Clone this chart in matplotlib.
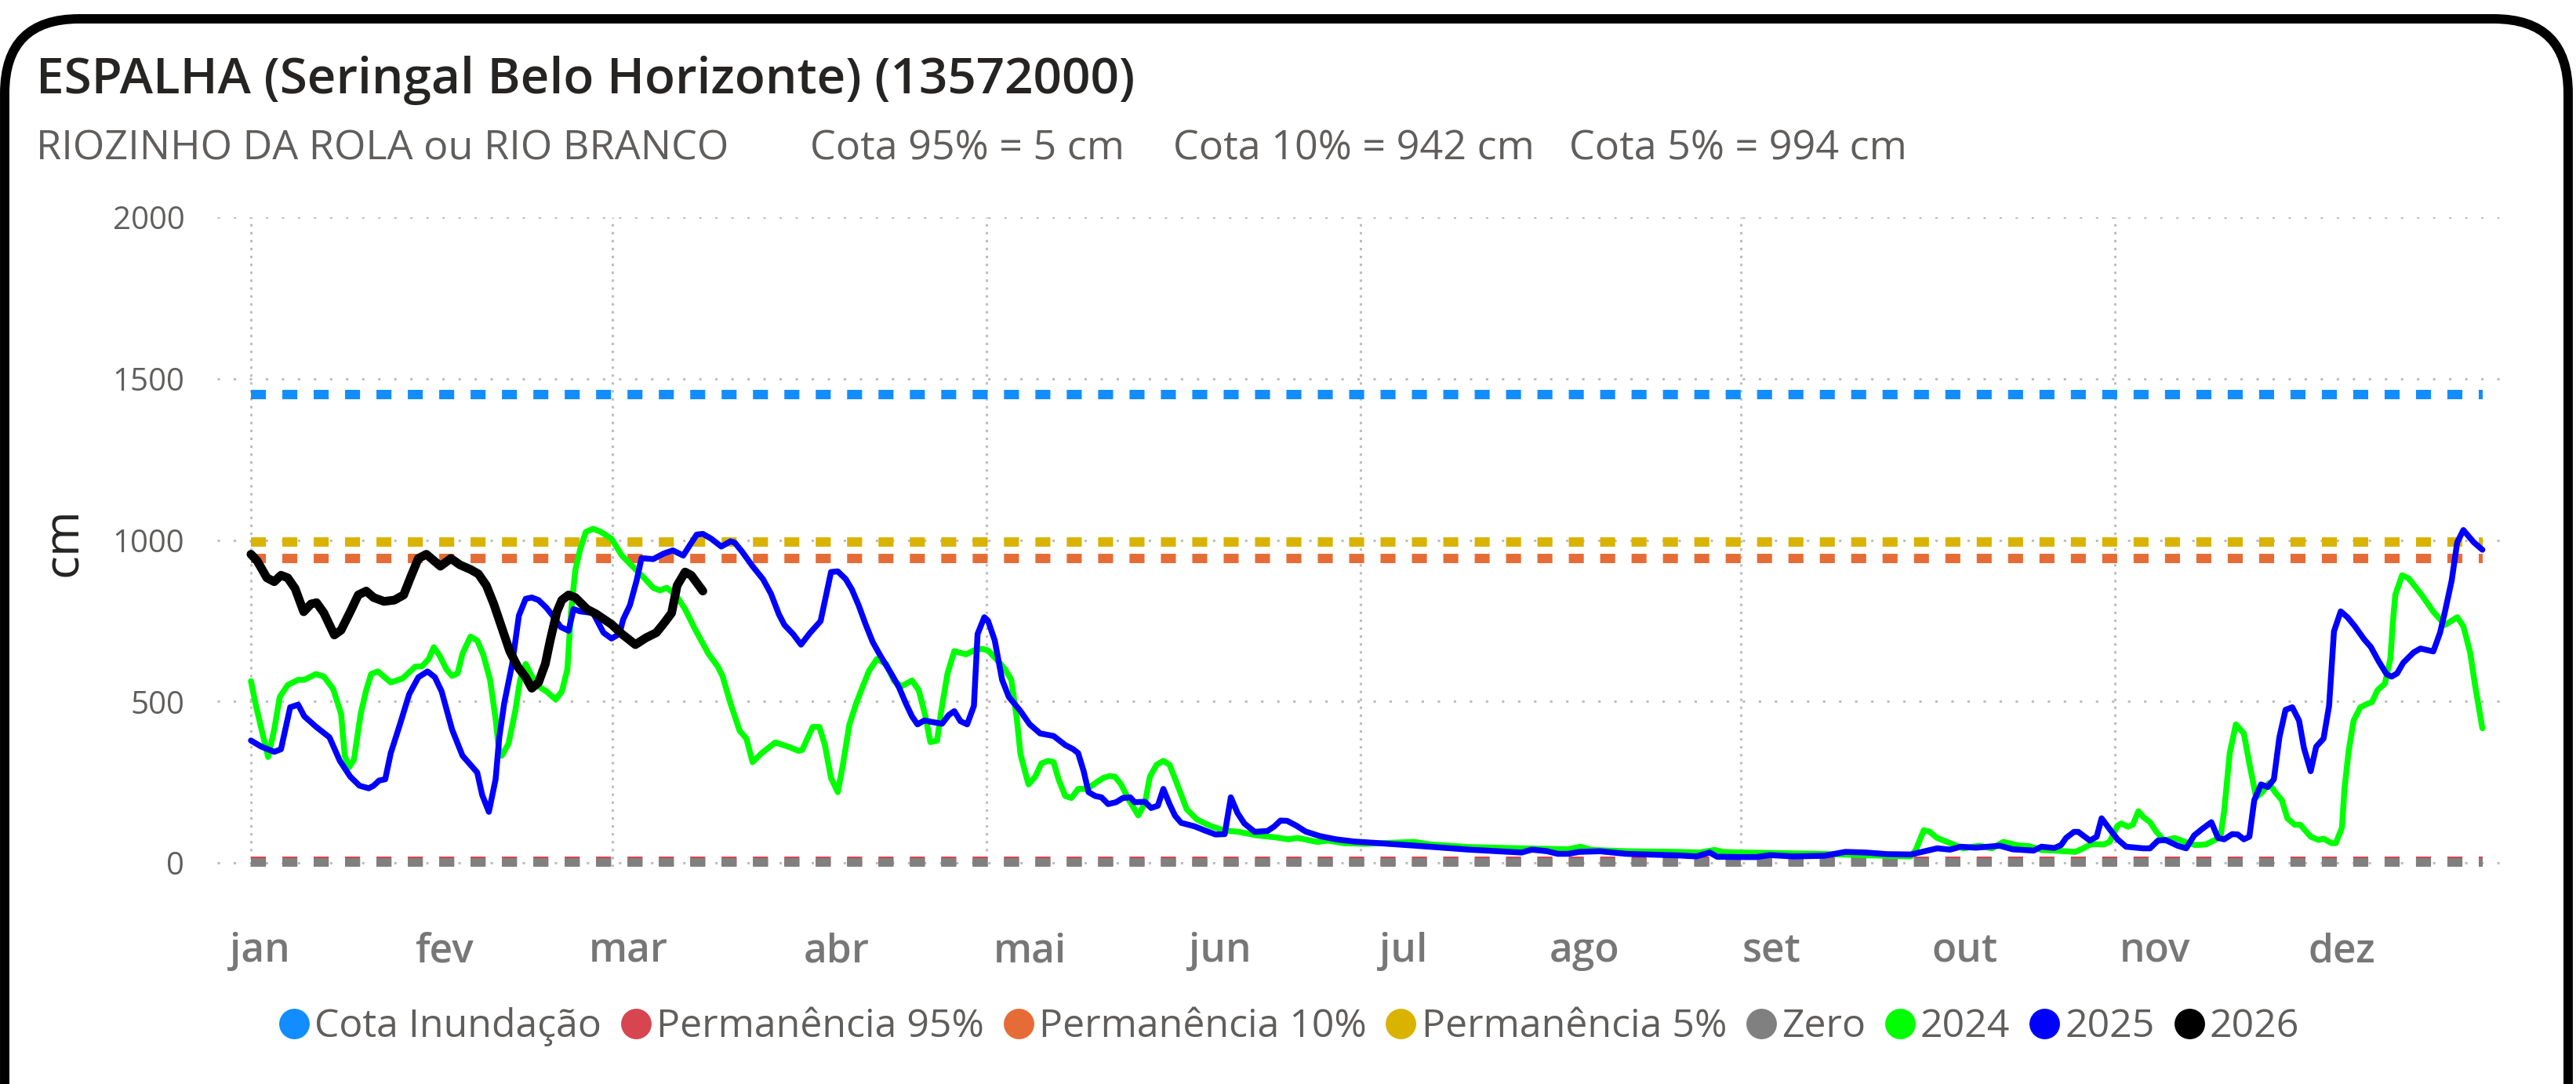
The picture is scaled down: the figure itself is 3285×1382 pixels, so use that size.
import matplotlib
matplotlib.use("Agg")
import matplotlib.pyplot as plt
from matplotlib.lines import Line2D
from matplotlib.patches import FancyBboxPatch
from matplotlib.transforms import IdentityTransform

plt.rcParams["font.family"] = ["Open Sans", "DejaVu Sans"]

# ---- data (day of year, 0 = 1 jan) ----
TITLE = "ESPALHA (Seringal Belo Horizonte) (13572000)"
RIVER = "RIOZINHO DA ROLA ou RIO BRANCO"
COTA_95 = 5
COTA_10 = 942
COTA_5 = 994
COTA_INUNDACAO = 1450

REF_NAMES = ["Cota Inundação", "Permanência 95%", "Permanência 10%", "Permanência 5%", "Zero"]
REF_VALUES = [COTA_INUNDACAO, COTA_95, COTA_10, COTA_5, 0]

MONTHS = ["jan", "fev", "mar", "abr", "mai", "jun", "jul", "ago", "set", "out", "nov", "dez"]
MONTH_LABEL_POS = [1.5, 31.5, 61.5, 95.5, 127, 158, 188, 217.5, 248, 279.5, 310.5, 341]
GRID_DAYS = [0, 59, 120, 181, 243, 304]
Y_TICKS = [0, 500, 1000, 1500, 2000]

DAYS_2024 = [0, 0.85, 2.8, 3.8, 4.7, 6.0, 7.7, 8.7, 10.6, 11.9, 13.4, 14.7, 15.3, 16.0, 16.8, 17.9,
             18.8, 19.6, 20.7, 22.8, 24.7, 26.8, 27.9, 29.0, 29.8, 30.7, 31.9, 32.8, 33.7, 34.5,
             35.8, 36.9, 37.9, 39.0, 39.9, 40.5, 40.9, 42.0, 43.1, 43.9, 44.8, 45.8, 46.9, 48.2,
             49.7, 50.7, 51.6, 52.2, 52.9, 53.7, 54.6, 55.8, 57.1, 58.8,
             60.5, 62.2, 63.9, 65.6, 66.7, 67.8, 69.3, 70.8, 72.5, 74.6, 76.1, 76.9, 78.2, 79.7,
             80.8, 81.8, 83.3, 85.5, 87.6, 89.3, 89.9, 91.6, 92.7, 93.6, 94.6, 95.7, 96.5, 97.6,
             98.7, 99.7, 100.8, 102.1, 103.6, 104.9, 106.1, 107.8, 108.9, 110.0, 110.8, 111.9,
             112.5, 113.6, 114.7, 116.6, 118.1, 119.3, 120.2,
             121.9, 123.0, 124.0, 124.9, 125.5, 126.8, 127.9, 128.9, 130.0, 130.9, 131.7, 132.8,
             133.8, 134.9, 136.4, 137.7, 139.0, 140.0, 140.9, 141.9, 143.2, 144.7, 145.8, 146.6,
             147.7, 148.8, 149.8, 150.9, 152.6, 154.3, 156.4, 158.6, 161.1, 164.1, 167.1, 169.2,
             170.7, 173.9, 175.6, 178.2, 181.6,
             189.7, 192.3, 198.6, 207.2, 214.8, 216.8, 218.7, 224.2, 232.8, 236.2, 238.7, 240, 243,
             247.2, 255.8, 264.3, 270.7, 271.5, 272.8, 273.7, 275, 276.6, 279.2, 281.8, 283.9,
             285.8, 288.2, 289.9, 292, 294.1, 297.5, 298.8, 300.1, 302.2, 303.1, 304.4,
             305, 306.1, 306.9, 307.8, 308.6, 309.7, 310.7, 312.0, 313.7, 315.4, 317.1, 318.8,
             320.5, 321.2, 321.8, 322.7, 323.7, 325.0, 325.9, 327.0, 328.0, 329.1, 330.1, 331.2,
             332.1, 333.3, 334.2, 335.9, 337.2, 338.0, 339.3, 340.0, 341.0, 341.4, 342.1, 342.9,
             344.0, 345.3, 345.9, 346.8, 348.0, 348.9, 349.3, 349.7, 350.8, 351.9, 354.0, 355.9,
             357.8, 359.8, 360.8, 361.9, 362.7, 363.9]
CM_2024 = [563, 484, 328, 413, 514, 551, 567, 567, 585, 577, 539, 462, 332, 296, 320, 462,
           535, 585, 593, 559, 571, 608, 609, 632, 668, 644, 599, 579, 587, 648,
           701, 689, 644, 567, 446, 340, 332, 369, 470, 567, 616, 579, 547, 531,
           506, 531, 599, 778, 907, 972, 1025, 1035, 1025, 1004,
           952, 919, 887, 852, 844, 852, 830, 786, 721, 648, 609, 579, 494, 409,
           385, 312, 340, 373, 360, 347, 350, 421, 421, 365, 263, 219, 300, 429,
           494, 543, 595, 632, 616, 563, 547, 565, 535, 454, 374, 379,
           462, 587, 656, 646, 660, 663, 658,
           624, 599, 567, 446, 336, 243, 267, 308, 316, 312, 259, 207,
           201, 229, 229, 247, 263, 269, 267, 243, 194, 147, 186, 267,
           304, 316, 304, 251, 166, 134, 115, 101, 96, 85, 79, 73,
           77, 65, 69, 61, 59,
           65, 57, 49, 45, 42, 50, 40, 36, 34, 32, 40, 34, 32,
           31, 28, 23, 20, 40, 101, 97, 77, 65, 45, 53, 45,
           65, 54, 52, 40, 38, 34, 45, 58, 57, 65, 115,
           122, 112, 118, 160, 142, 126, 97, 69, 77, 65, 55, 57,
           73, 81, 162, 340, 429, 401, 308, 203, 219, 247, 219, 194,
           138, 118, 118, 81, 71, 75, 61, 61, 109, 227, 348, 441,
           482, 494, 498, 535, 555, 632, 745, 830, 891, 881, 830, 778,
           737, 761, 733, 652, 551, 417]

DAYS_2025 = [0, 1.7, 3.8, 4.9, 6.4, 7.7, 8.7, 10.65, 12.8, 14.5, 16.2, 17.7, 19.2, 20.0, 20.9,
             21.9, 22.8, 24.3, 25.8, 27.3, 28.8, 30.0, 31.1, 32.8, 34.5, 35.8, 36.9, 37.7, 38.8,
             39.9, 40.5, 41.3, 42.6, 43.7, 44.8, 45.8, 46.9, 48.2, 49.2, 50.5, 51.8, 52.6, 53.7,
             55.8, 57.5, 58.8,
             60.1, 60.7, 61.8, 62.9, 63.7, 65.6, 67.3, 68.8, 70.5, 71.6, 72.7, 73.7, 75.0, 76.7,
             78.2, 78.9, 80.1, 81.8, 83.5, 84.8, 86.1, 87.0, 88.4, 89.7, 91.2, 92.9, 93.8, 94.6,
             95.7, 97.0, 98.0, 99.1, 100.2, 101.4, 102.7, 104.4, 105.7, 106.8, 107.8, 108.7,
             109.8, 111.2, 112.7, 113.8, 114.7, 115.7, 116.8, 117.9, 118.5, 119.6, 120.2,
             121.3, 122.5, 123.6, 125.5, 127.0, 128.7, 130.9, 132.8, 134.1, 134.9, 135.8, 136.6,
             137.7, 138.7, 139.8, 141.1, 142.2, 143.4, 144.1, 145.8, 146.8, 147.9, 148.8, 149.8,
             150.7, 151.7, 153.9, 155.6, 157.3, 158.8, 159.8, 160.9, 162.0, 163.7, 165.8, 166.9,
             167.9, 169.0, 170.5, 172.0, 174.3, 176.9, 179.9, 181.6,
             190.1, 198.6, 207.2, 208.9, 211.4, 213.1, 214.8, 216.6, 220, 224.2, 232.8, 235.7,
             237.9, 239.1, 243,
             245.5, 247.7, 251.5, 256.6, 260, 263.4, 266.8, 270.7, 275, 277.1, 278.8, 281.3,
             285.2, 287.3, 290.7, 292, 294.1, 295.2, 296.0, 297.3, 298, 299.9, 301, 301.8,
             303.1, 304.4,
             305.8, 308.6, 309.7, 311.0, 312.2, 314.2, 315.6, 316.9, 318.2, 319.7, 320.8, 321.8,
             323.1, 324.0, 325.0, 325.9, 326.7, 327.8, 328.9, 329.9, 330.8, 331.8, 332.9, 334.0,
             334.8, 335.9, 336.8, 338.0, 338.9, 339.7, 340.8, 341.9, 343.1, 344.6, 345.7, 347.0,
             348.3, 349.1, 350.0, 351.0, 352.7, 353.8, 355.9, 357.0, 357.8, 358.9, 359.8, 360.8,
             362.5, 363.9]
CM_2025 = [379, 360, 344, 352, 482, 490, 454, 421, 389, 316, 267, 239, 231, 239, 255,
           259, 340, 429, 522, 575, 593, 575, 531, 413, 332, 304, 280, 211, 158,
           259, 389, 494, 616, 766, 818, 822, 814, 790, 766, 731, 719, 786, 779,
           774, 713, 695,
           709, 754, 798, 875, 944, 941, 958, 968, 952, 985, 1017, 1019, 1005, 980,
           996, 992, 964, 919, 879, 834, 770, 737, 709, 676, 713, 749, 830, 901,
           903, 879, 847, 798, 741, 684, 640, 587, 543, 494, 454, 429,
           441, 436, 431, 458, 470, 439, 429, 486, 709, 761, 750,
           689, 567, 514, 470, 429, 401, 393, 365, 352, 340, 284, 219,
           207, 203, 182, 188, 201, 203, 188, 189, 170, 177, 229, 182,
           146, 124, 113, 100, 88, 89, 203, 154, 122, 96, 99, 113,
           131, 130, 115, 97, 83, 73, 66, 64,
           53, 41, 32, 41, 36, 28, 28, 34, 36, 28, 23, 20,
           32, 19, 18,
           18, 24, 20, 22, 34, 32, 27, 26, 45, 41, 50, 47,
           53, 42, 38, 50, 46, 55, 77, 96, 96, 69, 81, 138,
           105, 73,
           50, 45, 45, 69, 71, 53, 45, 85, 105, 126, 77, 73,
           89, 88, 73, 81, 194, 243, 235, 259, 389, 474, 482, 441,
           356, 284, 360, 385, 486, 717, 779, 761, 733, 693, 669, 624,
           584, 577, 587, 620, 652, 664, 655, 713, 778, 875, 993, 1031,
           993, 970]

DAYS_2026 = [0, 1, 2.6, 3.8, 4.9, 6, 7.2, 8.6, 9.8, 10.7, 11.9, 13.6, 14.7, 16.2, 17.5, 18.8,
             20, 21.7, 23.4, 24.9, 26, 27.3, 28.6, 29.6, 30.9, 32.6, 34.1, 35.8, 37.1, 38.4,
             39.6, 40.9, 42.2, 43.5, 44.8, 45.8, 46.9, 48, 48.8, 49.9, 50.7, 51.8, 52.9, 54.8,
             56.3, 58.8, 60.5, 62.7, 64.4, 66.1, 67.3, 68.6, 69.5, 70.8, 71.8, 73.7]
CM_2026 = [956, 936, 883, 871, 891, 883, 850, 778, 802, 806, 774, 706, 721, 778, 830, 842,
           822, 810, 814, 830, 883, 943, 956, 940, 919, 943, 923, 909, 895, 859,
           802, 729, 656, 608, 575, 541, 559, 616, 689, 778, 814, 830, 822, 786,
           771, 739, 709, 676, 697, 713, 741, 774, 859, 901, 891, 842]

YEARS = ["2024", "2025", "2026"]
SERIES = [(DAYS_2024, CM_2024), (DAYS_2025, CM_2025), (DAYS_2026, CM_2026)]

# ---- styles ----
REF_COLORS = ["#118DFF", "#D64550", "#E66C37", "#D9B300", "#808080"]
YEAR_COLORS = ["#00FF00", "#0000FF", "#000000"]
YEAR_WIDTHS = [5.4, 5.4, 8.0]
TEXT_DARK = "#252423"
TEXT_GREY = "#605E5C"

W, H = 3285, 1382
fig = plt.figure(figsize=(W / 100, H / 100), dpi=100)
ax = fig.add_axes([277 / W, 277 / H, 2923 / W, 828 / H])

# reference levels
for val, col in zip(REF_VALUES, REF_COLORS):
    ax.plot([0, 364], [val, val], color=col, lw=8.6, dashes=(1.6, 1.75),
            solid_capstyle="butt", dash_capstyle="butt", zorder=2)

for (d, v), col, lw in zip(SERIES, YEAR_COLORS, YEAR_WIDTHS):
    ax.plot(d, v, color=col, lw=lw, solid_joinstyle="round", solid_capstyle="round", zorder=3)

ax.set_xlim(-5.5, 368.3)
ax.set_ylim(-12, 2000)

# grid
for g in Y_TICKS:
    ax.axhline(g, color="#BDBDBD", lw=2.2, dashes=(1, 5.7), zorder=1)
for g in GRID_DAYS:
    ax.axvline(g, color="#BDBDBD", lw=2.2, dashes=(1, 2.3), zorder=1)

ax.set_yticks(Y_TICKS)
ax.set_yticklabels([str(t) for t in Y_TICKS], fontsize=29, color=TEXT_GREY)
ax.set_xticks(MONTH_LABEL_POS)
ax.set_xticklabels(MONTHS, fontsize=37, color="#777777", fontweight="semibold")
ax.tick_params(axis="y", length=0, pad=30)
ax.tick_params(axis="x", length=0, pad=60)
for s in ax.spines.values():
    s.set_visible(False)

ax.set_ylabel("cm", fontsize=45, color=TEXT_DARK, labelpad=22)

# titles
fig.text(46 / W, 1 - 119 / H, TITLE, fontsize=46, fontweight="semibold", color=TEXT_DARK,
         ha="left", va="baseline")
fig.text(46 / W, 1 - 204 / H, RIVER, fontsize=37.5, color=TEXT_GREY, ha="left", va="baseline")
fig.text(1033 / W, 1 - 204 / H, f"Cota 95% = {COTA_95} cm", fontsize=37.5, color=TEXT_GREY,
         ha="left", va="baseline")
fig.text(1496 / W, 1 - 204 / H, f"Cota 10% = {COTA_10} cm", fontsize=37.5, color=TEXT_GREY,
         ha="left", va="baseline")
fig.text(2001 / W, 1 - 204 / H, f"Cota 5% = {COTA_5} cm", fontsize=37.5, color=TEXT_GREY,
         ha="left", va="baseline")

# legend
handles = [Line2D([], [], marker="o", ls="none", markersize=28, color=c, markeredgewidth=0)
           for c in REF_COLORS + YEAR_COLORS]
leg = fig.legend(handles, REF_NAMES + YEARS, ncol=8, loc="center",
                 bbox_to_anchor=(0.5005, 73 / H), frameon=False, fontsize=36,
                 handlelength=0.75, handletextpad=0.15, columnspacing=0.5, borderaxespad=0)
for t in leg.get_texts():
    t.set_color(TEXT_GREY)

# rounded card border
border = FancyBboxPatch((6, -300), 3269, 1358 + 300, boxstyle="round,pad=0,rounding_size=95",
                        transform=IdentityTransform(), fill=False, ec="black", lw=8.6)
fig.add_artist(border)

fig.savefig("out.png", dpi=100)
